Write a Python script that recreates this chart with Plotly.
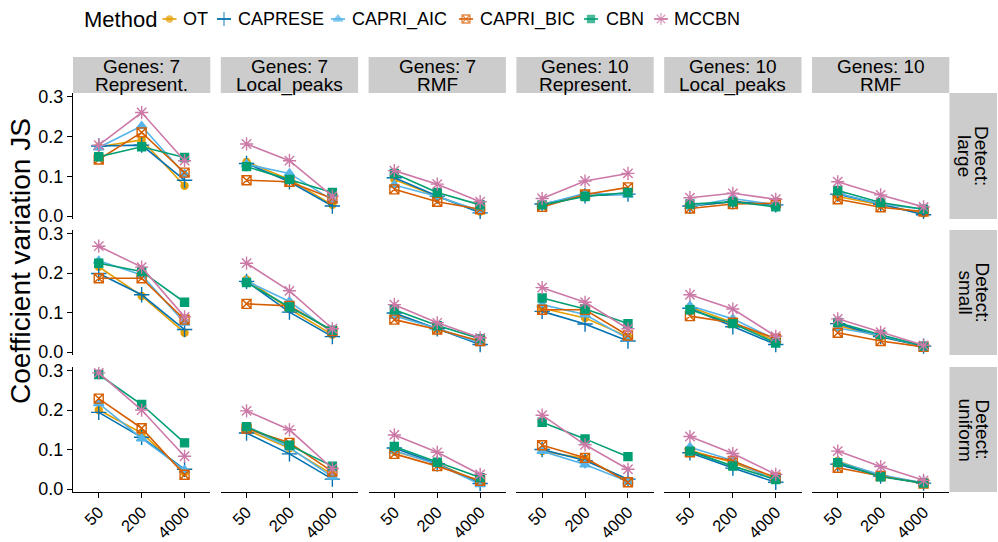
import plotly.graph_objects as go

# ---- data -------------------------------------------------------------
methods = ["OT", "CAPRESE", "CAPRI_AIC", "CAPRI_BIC", "CBN", "MCCBN"]
sample_sizes = ["50", "200", "4000"]
panel_genes = ["Genes: 7", "Genes: 7", "Genes: 7", "Genes: 10", "Genes: 10", "Genes: 10"]
panel_models = ["Represent.", "Local_peaks", "RMF", "Represent.", "Local_peaks", "RMF"]
detect_labels = ["large", "small", "uniform"]
y_ticks = [0.0, 0.1, 0.2, 0.3]

# values per panel (G7 Rep, G7 LP, G7 RMF, G10 Rep, G10 LP, G10 RMF) x sample size
ot_large = [[0.174, 0.191, 0.076], [0.136, 0.092, 0.028], [0.092, 0.049, 0.011],
            [0.028, 0.051, 0.057], [0.025, 0.036, 0.030], [0.049, 0.028, 0.007]]
caprese_large = [[0.176, 0.178, 0.090], [0.132, 0.086, 0.025], [0.096, 0.050, 0.008],
                 [0.030, 0.051, 0.055], [0.025, 0.036, 0.028], [0.055, 0.030, 0.003]]
aic_large = [[0.172, 0.226, 0.105], [0.130, 0.107, 0.040], [0.078, 0.049, 0.013],
             [0.029, 0.057, 0.053], [0.024, 0.044, 0.028], [0.057, 0.030, 0.017]]
bic_large = [[0.142, 0.210, 0.109], [0.090, 0.086, 0.044], [0.067, 0.036, 0.017],
             [0.023, 0.054, 0.072], [0.019, 0.030, 0.032], [0.042, 0.022, 0.011]]
cbn_large = [[0.149, 0.174, 0.147], [0.124, 0.092, 0.059], [0.107, 0.059, 0.028],
             [0.028, 0.049, 0.059], [0.030, 0.036, 0.023], [0.064, 0.034, 0.017]]
mccbn_large = [[0.178, 0.260, 0.139], [0.181, 0.139, 0.050], [0.114, 0.080, 0.036],
               [0.044, 0.088, 0.107], [0.046, 0.057, 0.042], [0.086, 0.053, 0.023]]

ot_small = [[0.216, 0.142, 0.049], [0.184, 0.109, 0.044], [0.095, 0.059, 0.025],
            [0.111, 0.086, 0.039], [0.114, 0.075, 0.028], [0.067, 0.039, 0.015]]
caprese_small = [[0.199, 0.145, 0.057], [0.179, 0.101, 0.039], [0.099, 0.059, 0.019],
                 [0.103, 0.071, 0.028], [0.111, 0.064, 0.019], [0.072, 0.039, 0.015]]
aic_small = [[0.231, 0.195, 0.074], [0.180, 0.128, 0.049], [0.091, 0.060, 0.022],
             [0.120, 0.095, 0.034], [0.117, 0.084, 0.032], [0.061, 0.042, 0.015]]
bic_small = [[0.187, 0.187, 0.082], [0.122, 0.117, 0.053], [0.082, 0.057, 0.028],
             [0.107, 0.107, 0.042], [0.091, 0.074, 0.034], [0.049, 0.028, 0.013]]
cbn_small = [[0.225, 0.204, 0.126], [0.176, 0.114, 0.055], [0.107, 0.067, 0.034],
             [0.137, 0.109, 0.072], [0.107, 0.072, 0.023], [0.075, 0.044, 0.015]]
mccbn_small = [[0.268, 0.215, 0.089], [0.225, 0.155, 0.059], [0.120, 0.074, 0.036],
               [0.163, 0.126, 0.059], [0.145, 0.109, 0.040], [0.084, 0.050, 0.017]]

ot_uniform = [[0.200, 0.142, 0.042], [0.150, 0.103, 0.037], [0.096, 0.064, 0.017],
              [0.096, 0.077, 0.021], [0.098, 0.067, 0.025], [0.071, 0.033, 0.015]]
caprese_uniform = [[0.194, 0.131, 0.050], [0.142, 0.089, 0.025], [0.104, 0.064, 0.014],
                   [0.100, 0.072, 0.025], [0.092, 0.053, 0.017], [0.063, 0.033, 0.015]]
aic_uniform = [[0.217, 0.128, 0.048], [0.156, 0.105, 0.031], [0.097, 0.063, 0.012],
               [0.096, 0.062, 0.019], [0.106, 0.072, 0.021], [0.069, 0.036, 0.015]]
bic_uniform = [[0.229, 0.154, 0.036], [0.153, 0.117, 0.044], [0.089, 0.058, 0.021],
               [0.111, 0.079, 0.017], [0.093, 0.071, 0.029], [0.054, 0.033, 0.014]]
cbn_uniform = [[0.290, 0.214, 0.117], [0.158, 0.111, 0.058], [0.108, 0.068, 0.029],
               [0.169, 0.127, 0.082], [0.096, 0.058, 0.024], [0.067, 0.031, 0.015]]
mccbn_uniform = [[0.294, 0.200, 0.083], [0.198, 0.150, 0.052], [0.137, 0.093, 0.037],
                 [0.187, 0.112, 0.050], [0.133, 0.090, 0.037], [0.096, 0.057, 0.022]]

rows = [
    [ot_large, caprese_large, aic_large, bic_large, cbn_large, mccbn_large],
    [ot_small, caprese_small, aic_small, bic_small, cbn_small, mccbn_small],
    [ot_uniform, caprese_uniform, aic_uniform, bic_uniform, cbn_uniform, mccbn_uniform],
]

# ---- styling ----------------------------------------------------------
colors = ["#E69F00", "#0072B2", "#56B4E9", "#D55E00", "#009E73", "#CC79A7"]
symbols = ["circle", "cross-thin-open", "triangle-up", "square-x-open", "square", "asterisk-open"]
msizes = [7, 11, 9, 9, 8, 11]
FONT = "Liberation Sans, Arial, sans-serif"

W, H = 998, 542

# panel boxes in pixels (left, right) / (top, bottom)
col_px = [(73 + i * 147.8, 73 + i * 147.8 + 137.3) for i in range(6)]
row_px = [(93, 219), (230, 355), (367, 492)]

# legend key centres and label starts (pixels)
key_x = [169.5, 224, 338, 466, 591, 661]
label_x = [181, 236, 350, 478, 604, 672]
LEGEND_Y = 19


def fx(x):
    return min(1.0, max(0.0, x / W))


def fy(y):
    return min(1.0, max(0.0, (H - y) / H))


fig = go.Figure()
layout = {}
for r in range(3):
    for c in range(6):
        k = r * 6 + c + 1
        xa = "x" if k == 1 else f"x{k}"
        ya = "y" if k == 1 else f"y{k}"
        for m, name in enumerate(methods):
            fig.add_trace(go.Scatter(
                x=sample_sizes, y=rows[r][m][c], xaxis=xa, yaxis=ya,
                mode="lines+markers", name=name, showlegend=False,
                line=dict(color=colors[m], width=1.6),
                marker=dict(symbol=symbols[m], size=msizes[m], color=colors[m],
                            line=dict(color=colors[m], width=1.4)),
            ))
        bottom = r == 2
        left = c == 0
        layout["xaxis" if k == 1 else f"xaxis{k}"] = dict(
            domain=[fx(col_px[c][0]), fx(col_px[c][1])],
            anchor=ya, type="category", categoryorder="array",
            categoryarray=sample_sizes, range=[-0.6, 2.6],
            showgrid=False, zeroline=False,
            showline=bottom, linecolor="black", linewidth=1.3,
            ticks="outside" if bottom else "", ticklen=5, tickwidth=1.2, tickcolor="black",
            showticklabels=bottom, tickangle=-45, ticklabelstandoff=-2,
            tickfont=dict(family=FONT, size=16.5, color="black"),
            automargin=False,
        )
        layout["yaxis" if k == 1 else f"yaxis{k}"] = dict(
            domain=[fy(row_px[r][1]), fy(row_px[r][0])],
            anchor=xa, range=[-0.0075, 0.309],
            tickvals=y_ticks, tickformat=".1f",
            showgrid=False, zeroline=False,
            showline=left, linecolor="black", linewidth=1.3,
            ticks="outside" if left else "", ticklen=5, tickwidth=1.2, tickcolor="black",
            showticklabels=left,
            tickfont=dict(family=FONT, size=18, color="black"),
            automargin=False,
        )

# legend drawn on its own pixel-scaled axis
layout["xaxis19"] = dict(domain=[0, 1], range=[0, W], anchor="y19", visible=False,
                         fixedrange=True)
layout["yaxis19"] = dict(domain=[fy(38), fy(0)], range=[38, 0], anchor="x19", visible=False,
                         fixedrange=True)
for m, name in enumerate(methods):
    fig.add_trace(go.Scatter(
        x=[key_x[m] - 7, key_x[m], key_x[m] + 7], y=[LEGEND_Y] * 3,
        xaxis="x19", yaxis="y19", mode="lines+markers", showlegend=False, hoverinfo="skip",
        line=dict(color=colors[m], width=1.6),
        marker=dict(symbol=symbols[m], size=[0, msizes[m] - 1, 0], color=colors[m],
                    line=dict(color=colors[m], width=1.3)),
    ))

shapes = []
annotations = []
strip_fill = "#CCCCCC"
strip_font = dict(family=FONT, size=19, color="black")
# column strips (two text lines each)
for c in range(6):
    x0, x1 = fx(col_px[c][0]), fx(col_px[c][1])
    shapes.append(dict(type="rect", xref="paper", yref="paper", x0=x0, x1=x1,
                       y0=fy(93), y1=fy(57), fillcolor=strip_fill, line=dict(width=0),
                       layer="below"))
    for text, yy in ((panel_genes[c], 66.5), (panel_models[c], 84.5)):
        annotations.append(dict(xref="paper", yref="paper", x=(x0 + x1) / 2, y=fy(yy),
                                text=text, showarrow=False, font=strip_font,
                                xanchor="center", yanchor="middle"))
# row strips (rotated, two text lines each)
for r in range(3):
    y0, y1 = fy(row_px[r][1]), fy(row_px[r][0])
    shapes.append(dict(type="rect", xref="paper", yref="paper", x0=fx(949.5), x1=fx(997),
                       y0=y0, y1=y1, fillcolor=strip_fill, line=dict(width=0), layer="below"))
    for text, xx in (("Detect:", 982), (detect_labels[r], 965)):
        annotations.append(dict(xref="paper", yref="paper", x=fx(xx), y=(y0 + y1) / 2,
                                text=text, showarrow=False, textangle=90, font=strip_font,
                                xanchor="center", yanchor="middle"))
# y-axis title
annotations.append(dict(xref="paper", yref="paper", x=fx(20), y=fy(261),
                        text="Coefficient variation JS", showarrow=False, textangle=-90,
                        font=dict(family=FONT, size=28, color="black"),
                        xanchor="center", yanchor="middle"))
# legend title and labels
annotations.append(dict(xref="x19", yref="y19", x=82, y=LEGEND_Y, text="Method",
                        showarrow=False, xanchor="left", yanchor="middle",
                        font=dict(family=FONT, size=22, color="black")))
for m, name in enumerate(methods):
    annotations.append(dict(xref="x19", yref="y19", x=label_x[m], y=LEGEND_Y, text=name,
                            showarrow=False, xanchor="left", yanchor="middle",
                            font=dict(family=FONT, size=18, color="black")))

fig.update_layout(
    **layout,
    width=W, height=H,
    margin=dict(l=0, r=0, t=0, b=0, pad=0, autoexpand=False),
    paper_bgcolor="white", plot_bgcolor="white",
    shapes=shapes, annotations=annotations,
    showlegend=False,
    font=dict(family=FONT, color="black"),
)

fig.write_html("out.html")
